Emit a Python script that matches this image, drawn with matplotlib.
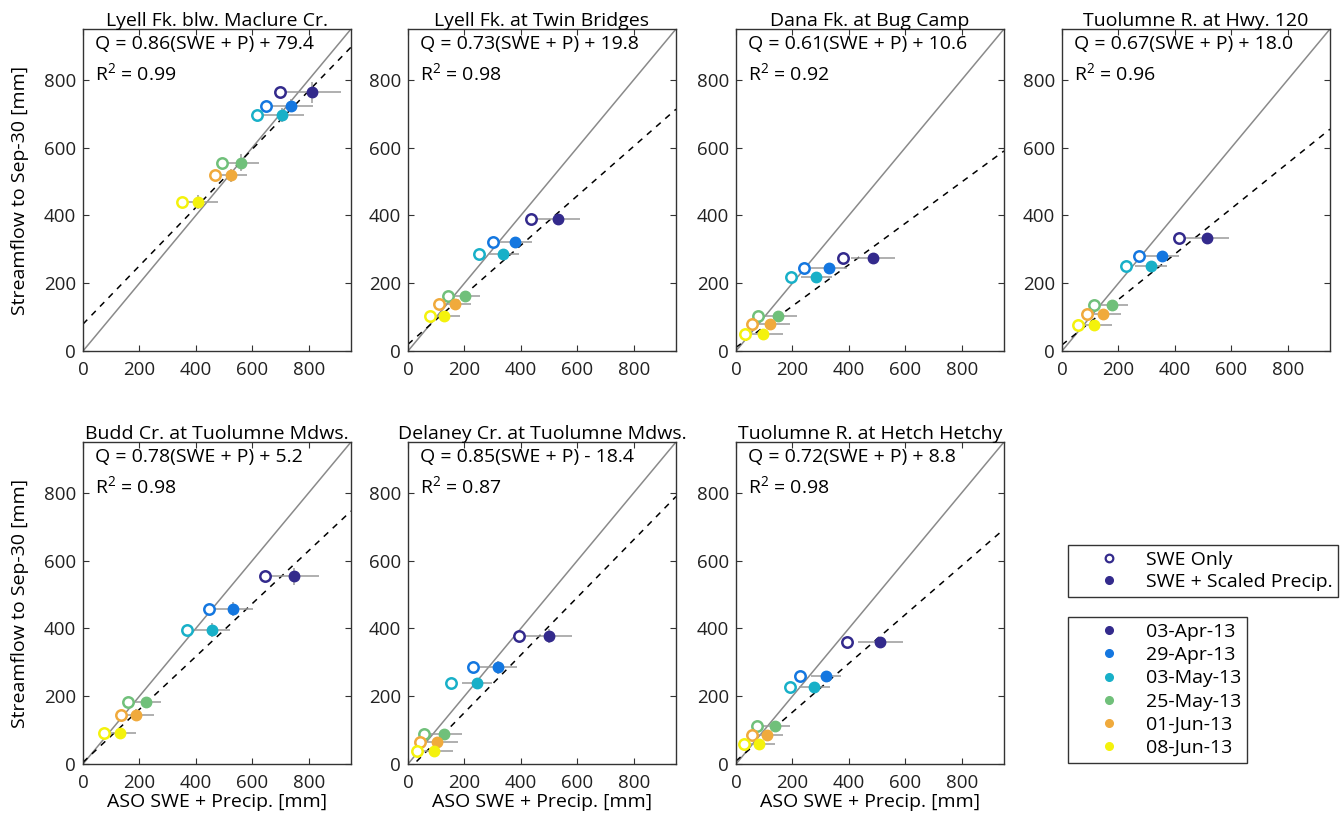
import numpy as np
import matplotlib
matplotlib.use("Agg")
import matplotlib.pyplot as plt
from matplotlib.lines import Line2D

plt.rcParams['font.family'] = ['Open Sans', 'DejaVu Sans']
plt.rcParams['mathtext.fontset'] = 'custom'
plt.rcParams['mathtext.rm'] = 'Open Sans'

# ---------------------------------------------------------------- data
sites = ['Lyell Fk. blw. Maclure Cr.', 'Lyell Fk. at Twin Bridges',
         'Dana Fk. at Bug Camp', 'Tuolumne R. at Hwy. 120',
         'Budd Cr. at Tuolumne Mdws.', 'Delaney Cr. at Tuolumne Mdws.',
         'Tuolumne R. at Hetch Hetchy']
slope = [0.86, 0.73, 0.61, 0.67, 0.78, 0.85, 0.72]
intercept = [79.4, 19.8, 10.6, 18.0, 5.2, -18.4, 8.8]
r2 = [0.99, 0.98, 0.92, 0.96, 0.98, 0.87, 0.98]

dates = ['03-Apr-13', '29-Apr-13', '03-May-13', '25-May-13', '01-Jun-13', '08-Jun-13']
date_colors = ['#332a8c', '#1477e0', '#18b0c8', '#70c07a', '#f0aa3c', '#f4f20c']

# ASO SWE only [mm], one row per site, one column per date
swe_only = [
    [698, 650, 618, 493, 467, 351],
    [435, 300, 253, 141, 109, 79],
    [381, 241, 194, 79, 56, 32],
    [414, 273, 226, 114, 88, 57],
    [644, 446, 369, 159, 133, 73],
    [393, 232, 152, 55, 41, 32],
    [395, 227, 192, 73, 56, 28],
]
# ASO SWE + scaled precip [mm]
swe_precip = [
    [810, 738, 705, 560, 525, 407],
    [533, 380, 338, 201, 166, 129],
    [485, 329, 285, 149, 121, 95],
    [514, 356, 314, 178, 146, 114],
    [748, 533, 458, 222, 189, 130],
    [500, 320, 244, 126, 102, 91],
    [511, 318, 278, 138, 109, 83],
]
# horizontal uncertainty on SWE + precip [mm]
precip_err = [
    [103, 77, 77, 65, 58, 71],
    [75, 61, 54, 54, 58, 56],
    [79, 64, 55, 66, 69, 71],
    [78, 58, 57, 57, 63, 62],
    [90, 69, 62, 56, 62, 59],
    [81, 65, 53, 65, 74, 68],
    [80, 53, 56, 53, 59, 56],
]
# streamflow to Sep-30 [mm]
flow = [
    [763, 724, 696, 555, 518, 440],
    [389, 322, 287, 163, 139, 104],
    [274, 246, 219, 104, 80, 50],
    [334, 280, 251, 135, 110, 78],
    [554, 458, 396, 184, 146, 91],
    [377, 285, 239, 89, 64, 39],
    [360, 259, 227, 111, 87, 59],
]
flow_err = [
    [30, 20, 20, 25, 20, 20],
    [15, 15, 15, 15, 15, 15],
    [10, 10, 10, 10, 10, 10],
    [12, 12, 12, 12, 12, 12],
    [25, 20, 20, 15, 15, 15],
    [20, 20, 15, 10, 10, 10],
    [15, 15, 15, 10, 10, 10],
]

# ---------------------------------------------------------------- plot
fig = plt.figure(figsize=(13.41, 8.22), dpi=100)

W, H = 1341.0, 822.0
lefts = [83, 408, 736, 1062]
tops = [29, 442]
aw, ah = 268, 322
fs = 14

lim = 950
xx = np.array([0, lim])

for i, name in enumerate(sites):
    row, col = divmod(i, 4)
    ax = fig.add_axes([lefts[col] / W, 1 - (tops[row] + ah) / H, aw / W, ah / H])

    ax.plot(xx, xx, color='#8a8a8a', lw=1.1, zorder=1)
    ax.plot(xx, slope[i] * xx + intercept[i], 'k--', lw=1.1, dashes=(4, 4), zorder=1)

    for k in range(len(dates)):
        ax.errorbar(swe_precip[i][k], flow[i][k], xerr=precip_err[i][k], yerr=flow_err[i][k],
                    fmt='none', ecolor='#9a9a9a', elinewidth=1.1, capsize=0, zorder=2)
        ax.plot(swe_only[i][k], flow[i][k], 'o', ms=7.5, mfc='white', mec=date_colors[k],
                mew=1.8, zorder=3)
        ax.plot(swe_precip[i][k], flow[i][k], 'o', ms=7.5, mfc=date_colors[k],
                mec=date_colors[k], zorder=3)

    sign = '+' if intercept[i] >= 0 else '-'
    ax.text(0.045, 0.98, 'Q = %.2f(SWE + P) %s %.1f' % (slope[i], sign, abs(intercept[i])),
            transform=ax.transAxes, va='top', ha='left', fontsize=fs)
    ax.text(0.045, 0.895, 'R$^2$ = %.2f' % r2[i],
            transform=ax.transAxes, va='top', ha='left', fontsize=fs)

    ax.set_xlim(0, lim)
    ax.set_ylim(0, lim)
    ax.set_xticks([0, 200, 400, 600, 800])
    ax.set_yticks([0, 200, 400, 600, 800])
    ax.tick_params(direction='in', top=True, right=True, labelsize=13.5, length=4,
                   width=0.8, colors='#333333', labelcolor='#222222')
    ax.tick_params(axis='x', pad=7)
    ax.tick_params(axis='y', pad=5)
    for s in ax.spines.values():
        s.set_color('#333333')
        s.set_linewidth(1.0)
    ax.set_title(name, fontsize=fs, pad=2)
    if col == 0:
        ax.set_ylabel('Streamflow to Sep-30 [mm]', fontsize=fs)
        ax.yaxis.set_label_coords(-0.2, 0.5)
    if row == 1:
        ax.set_xlabel('ASO SWE + Precip. [mm]', fontsize=fs, labelpad=1)

# legends
mk_handles = [
    Line2D([], [], ls='none', marker='o', ms=5.5, mfc='white', mec=date_colors[0], mew=1.6),
    Line2D([], [], ls='none', marker='o', ms=5.5, mfc=date_colors[0], mec=date_colors[0]),
]
leg_kw = dict(loc='upper left', fontsize=fs, fancybox=False, edgecolor='#333333',
              framealpha=1, handlelength=3.6, handletextpad=0.1,
              borderpad=0.3, borderaxespad=0)
leg1 = fig.legend(mk_handles, ['SWE Only', 'SWE + Scaled Precip.'], labelspacing=0.2,
                  bbox_to_anchor=(1068 / W, 1 - 545 / H), **leg_kw)
leg1.get_frame().set_linewidth(1.0)
date_handles = [Line2D([], [], ls='none', marker='o', ms=5.5, mfc=c, mec=c) for c in date_colors]
leg2 = fig.legend(date_handles, dates, labelspacing=0.27,
                  bbox_to_anchor=(1068 / W, 1 - 617 / H), **leg_kw)
leg2.get_frame().set_linewidth(1.0)

fig.savefig('out.png', dpi=100)
